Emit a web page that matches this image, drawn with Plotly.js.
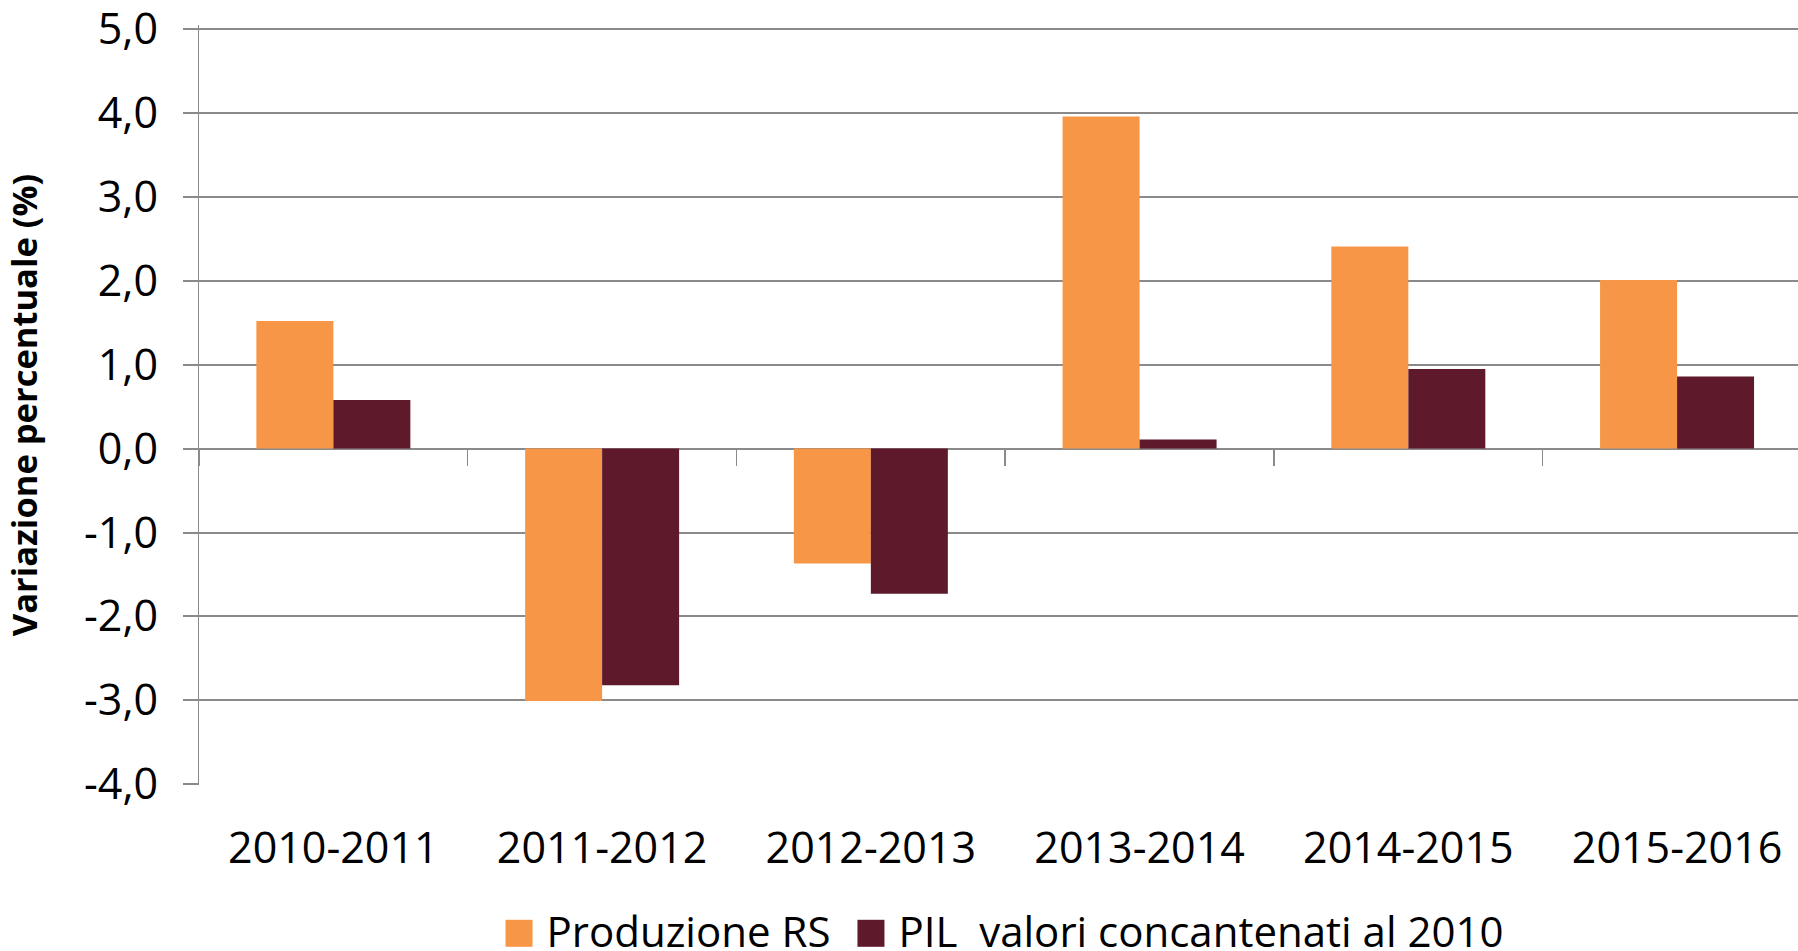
<!DOCTYPE html>
<html>
<head>
<meta charset="utf-8">
<script src="https://cdn.plot.ly/plotly-3.0.1.min.js"></script>
<style>
html,body{margin:0;padding:0;background:#fff;overflow:hidden;}
#chart{width:1798px;height:951px;}
</style>
</head>
<body>
<div id="chart"></div>
<script>
const categories = ["2010-2011","2011-2012","2012-2013","2013-2014","2014-2015","2015-2016"];
const produzioneRS = [1.52, -3.01, -1.37, 3.96, 2.41, 2.01];
const pilConcatenati = [0.58, -2.82, -1.73, 0.11, 0.95, 0.86];
const seriesNames = ["Produzione RS", "PIL\u00A0 valori concantenati al 2010"];
const yTickValues = [5, 4, 3, 2, 1, 0, -1, -2, -3, -4];
const yTickLabels = ["5,0","4,0","3,0","2,0","1,0","0,0","-1,0","-2,0","-3,0","-4,0"];

const gridColor = "#8a8a8a";
const FONT = "Open Sans, sans-serif";
const tickFont = {family: FONT, size: 43, color: "#000"};
const legendFont = {family: FONT, size: 42, color: "#000"};
const yRange = [-4.01, 5.05];

const traces = [
  {type: "bar", name: seriesNames[0], x: categories, y: produzioneRS,
   marker: {color: "#F79646", line: {width: 0}}, hoverinfo: "y"},
  {type: "bar", name: seriesNames[1], x: categories, y: pilConcatenati,
   marker: {color: "#5E192B", line: {width: 0}}, hoverinfo: "y"},
  {type: "scatter", mode: "markers", x: categories, y: categories.map(() => null),
   xaxis: "x2", showlegend: false, hoverinfo: "skip", marker: {opacity: 0}}
];

const layout = {
  width: 1798, height: 951,
  margin: {l: 199, r: 0, t: 25, b: 166, autoexpand: false},
  paper_bgcolor: "#fff", plot_bgcolor: "#fff",
  font: tickFont,
  separators: ",.",
  barmode: "group",
  bargap: 0.427,
  bargroupgap: 0,
  showlegend: true,
  legend: {orientation: "h", x: 0.5, xanchor: "center", y: -0.192, yanchor: "middle",
           font: legendFont, traceorder: "normal"},
  xaxis: {
    type: "category", categoryorder: "array", categoryarray: categories,
    range: [-0.5, 5.45], showgrid: false, zeroline: false, showline: false,
    ticks: "", tickfont: tickFont, ticklabelstandoff: 34
  },
  xaxis2: {
    type: "category", categoryorder: "array", categoryarray: categories,
    overlaying: "x", anchor: "free", position: (0 - yRange[0]) / (yRange[1] - yRange[0]),
    range: [-0.5, 5.45], showgrid: false, zeroline: false, showline: false,
    ticks: "outside", tickson: "boundaries", ticklen: 16, tickwidth: 1.5,
    tickcolor: gridColor, showticklabels: false
  },
  yaxis: {
    range: yRange, tickmode: "array", tickvals: yTickValues, ticktext: yTickLabels,
    showgrid: true, gridcolor: gridColor, gridwidth: 2,
    zeroline: false, showline: true, linecolor: gridColor, linewidth: 1.3,
    ticks: "outside", ticklen: 15, tickwidth: 2, tickcolor: gridColor,
    tickfont: tickFont, ticklabelstandoff: 16, ticklabeloverflow: "allow",
    title: {text: "Variazione percentuale (%)",
            font: {family: FONT, size: 34.5, color: "#000", weight: "bold"},
            standoff: 38}
  }
};

function parseTranslate(el) {
  const t = el.getAttribute("transform") || "";
  const m = t.match(/translate\(\s*([-\d.e]+)[ ,]+([-\d.e]+)\s*\)/);
  return m ? [parseFloat(m[1]), parseFloat(m[2])] : [0, 0];
}

function styleLegend(gd) {
  const SQ = 27, GAP_TEXT = 14, GAP_ITEM = 27, OFFSET = 6, fs = legendFont.size;
  gd.querySelectorAll(".legend [clip-path]").forEach(e => e.removeAttribute("clip-path"));
  const items = Array.from(gd.querySelectorAll(".legend g.traces"));
  items.forEach(g => {
    const p = g.querySelector(".legendpoints path");
    const txt = g.querySelector("text.legendtext");
    if (!p || !txt) return;
    p.setAttribute("d", `M0,0h${SQ}v${SQ}h${-SQ}Z`);
    p.removeAttribute("transform");
    const tr = txt.getBoundingClientRect();
    const pr = p.getBoundingClientRect();
    const baseline = tr.bottom - 0.293 * fs;
    const dx = (tr.left - GAP_TEXT - SQ) - pr.left;
    const dy = (baseline - SQ) - pr.top;
    p.setAttribute("transform", `translate(${dx},${dy})`);
  });
  for (let i = 1; i < items.length; i++) {
    const prevTxt = items[i - 1].querySelector("text.legendtext").getBoundingClientRect();
    const curSq = items[i].querySelector(".legendpoints path").getBoundingClientRect();
    const shift = (prevTxt.right + GAP_ITEM) - curSq.left;
    const [a, b] = parseTranslate(items[i]);
    items[i].setAttribute("transform", `translate(${a + shift},${b})`);
  }
  const first = items[0].querySelector(".legendpoints path").getBoundingClientRect();
  const last = items[items.length - 1].querySelector("text.legendtext").getBoundingClientRect();
  const sz = gd._fullLayout._size;
  const centre = sz.l + sz.w / 2 + OFFSET;
  const shiftAll = centre - (first.left + last.right) / 2;
  const lg = gd.querySelector("g.legend");
  const [la, lb] = parseTranslate(lg);
  lg.setAttribute("transform", `translate(${la + shiftAll},${lb})`);
  const bg = gd.querySelector(".legend rect.bg");
  if (bg) bg.setAttribute("width", 0);
}

Plotly.newPlot("chart", traces, layout, {displayModeBar: false, staticPlot: true}).then(styleLegend);
</script>
</body>
</html>
